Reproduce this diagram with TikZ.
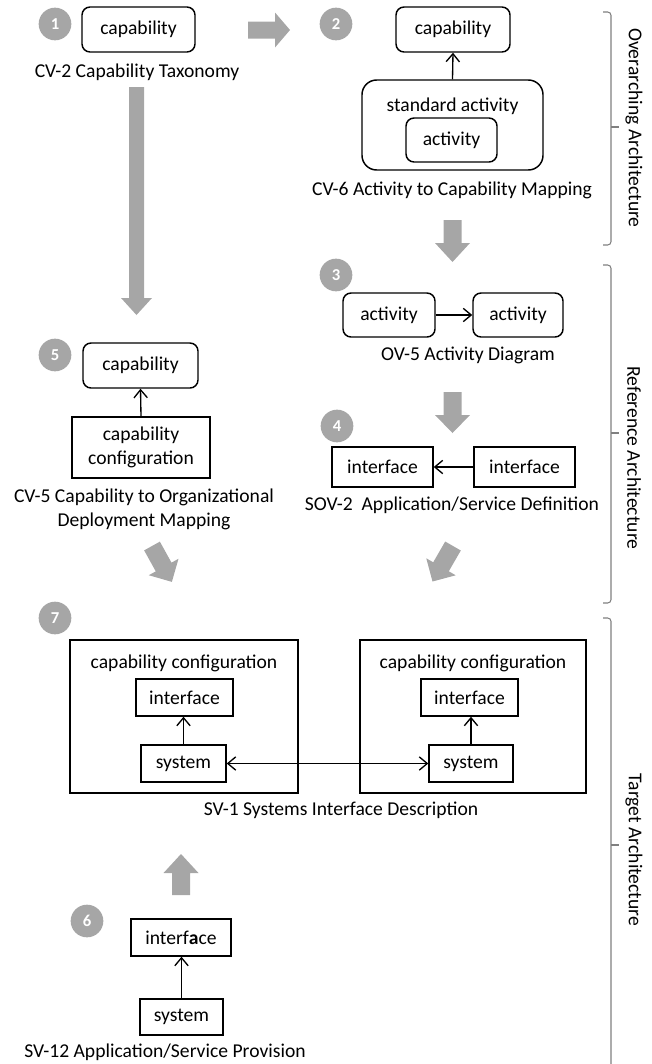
\documentclass[tikz,border=0pt]{standalone}
\usepackage{fontspec}
\setmainfont{Carlito}
\usetikzlibrary{arrows.meta}
\definecolor{numgray}{HTML}{A6A6A6}
\definecolor{arrgray}{HTML}{A6A6A6}
\definecolor{brkgray}{HTML}{808080}
\newcommand{\blockarrow}[7]{% x,y,angle,length,shaftw,headw,headlen
  \begin{scope}[shift={(#1,#2)},rotate=#3]
    \fill[arrgray] (0,{-#5/2}) -- ({#4-#7},{-#5/2}) -- ({#4-#7},{-#6/2}) -- (#4,0) -- ({#4-#7},{#6/2}) -- ({#4-#7},{#5/2}) -- (0,{#5/2}) -- cycle;
  \end{scope}}
\tikzset{
  rbox/.style={draw, line width=1.1pt, rounded corners=6pt, inner sep=0pt, align=center},
  sbox/.style={draw, line width=1.1pt, inner sep=0pt, align=center},
  num/.style={circle, fill=numgray, text=white, font=\bfseries\fontsize{12.5}{12.5}\selectfont, minimum size=24.5pt, inner sep=0pt},
  lbl/.style={align=center, inner sep=0pt},
  con/.style={line width=1pt, -{Straight Barb[length=6pt,width=10pt]}},
  dcon/.style={line width=1pt, {Straight Barb[length=6pt,width=10pt]}-{Straight Barb[length=6pt,width=10pt]}},
  brk/.style={draw=brkgray, line width=0.8pt, rounded corners=2.5pt},
  side/.style={rotate=-90, inner sep=0pt},
}
\begin{document}
\begin{tikzpicture}[x=0.75pt,y=-0.75pt,font=\fontsize{14.7}{18.5}\selectfont]
\useasboundingbox (0,0) rectangle (652,1064);

% block arrows
\blockarrow{248}{30}{0}{42}{17}{35}{15}
\blockarrow{136.5}{87}{-90}{228}{15}{31}{17}
\blockarrow{452.5}{220}{-90}{42}{18}{35}{19}
\blockarrow{452.5}{392}{-90}{41}{18}{35}{18}
\blockarrow{152}{546}{-61}{41}{18}{34}{17}
\blockarrow{453}{546}{-120}{41}{18}{34}{17}
\blockarrow{181}{895}{90}{41}{18}{35}{19}

% 1
\node[num] (n1) at (55,24) {1};
\node[rbox, minimum width=84.75pt, minimum height=33.75pt] (cap1) at (138.5,29.5) {capability};
\node[lbl] (l1) at (137,72) {CV-2 Capability Taxonomy};

% 2
\node[num] (n2) at (336,24) {2};
\node[rbox, minimum width=85.5pt, minimum height=33.75pt] (cap2) at (453,29.5) {capability};
\node[draw, line width=1.1pt, rounded corners=11pt, minimum width=135.75pt, minimum height=67.5pt] (std) at (452.5,125) {};
\node[lbl] (stdt) at (452.5,106) {standard activity};
\node[rbox, minimum width=68.25pt, minimum height=33pt] (act) at (451.5,140) {activity};
\draw[con] (std.north) -- (cap2.south);
\node[lbl] (l2) at (452,190) {CV-6 Activity to Capability Mapping};

% 3
\node[num] (n3) at (336,275) {3};
\node[rbox, minimum width=69pt, minimum height=33pt] (act1) at (389,315) {activity};
\node[rbox, minimum width=67.5pt, minimum height=33pt] (act2) at (518,315) {activity};
\draw[con] (act1.east) -- (act2.west);
\node[lbl] (l3) at (468,355) {OV-5 Activity Diagram};

% 4
\node[num] (n4) at (337,426) {4};
\node[sbox, minimum width=75.75pt, minimum height=30pt] (if1) at (382.5,467) {interface};
\node[sbox, minimum width=75.75pt, minimum height=30pt] (if2) at (524.5,467) {interface};
\draw[con] (if2.west) -- (if1.east);
\node[lbl] (l4) at (452,505) {SOV-2\ \ Application/Service Definition};

% 5
\node[num] (n5) at (55,355) {5};
\node[rbox, minimum width=86.25pt, minimum height=33.75pt] (cap5) at (140.5,365.5) {capability};
\node[sbox, minimum width=103.5pt, minimum height=45.75pt] (cfg) at (141,447.5) {capability\\configuration};
\draw[con] (cfg.north) -- (cap5.south);
\node[lbl] (l5) at (144,509.5) {CV-5 Capability to Organizational\\Deployment Mapping};

% 7
\node[num] (n7) at (55,618) {7};
\node[sbox, minimum width=171pt, minimum height=114.75pt] (outL) at (184,716.5) {};
\node[sbox, minimum width=169.5pt, minimum height=114.75pt] (outR) at (473,716.5) {};
\node[lbl] (ccL) at (184,663) {capability configuration};
\node[lbl] (ccR) at (473,663) {capability configuration};
\node[sbox, minimum width=72.75pt, minimum height=27.75pt] (ifL) at (184.5,697.5) {interface};
\node[sbox, minimum width=63.75pt, minimum height=27.75pt] (sysL) at (183.5,763.5) {system};
\node[sbox, minimum width=72.75pt, minimum height=27.75pt] (ifR) at (469.5,697.5) {interface};
\node[sbox, minimum width=63pt, minimum height=27.75pt] (sysR) at (471,763.5) {system};
\draw[con] (sysL.north) -- (sysL.north |- ifL.south);
\draw[con] (sysR.north) -- (sysR.north |- ifR.south);
\draw[dcon] (sysL.east) -- (sysR.west);
\node[lbl] (l7) at (341,810) {SV-1 Systems Interface Description};

% 6
\node[num] (n6) at (87,921) {6};
\node[sbox, minimum width=75pt, minimum height=27.75pt] (ifB) at (181,937.5) {interf\textbf{a}ce};
\node[sbox, minimum width=62.25pt, minimum height=27pt] (sysB) at (181.5,1017) {system};
\draw[con] (sysB.north) -- (sysB.north |- ifB.south);
\node[lbl] (l6) at (165,1052) {SV-12 Application/Service Provision};

% brackets
\draw[brk] (603,12) -- (611,12) -- (611,245) -- (603,245);
\draw[brkgray, line width=0.8pt] (611,127) -- (619,127);
\node[side] (s1) at (634,128) {Overarching Architecture};
\draw[brk] (603,265) -- (611,265) -- (611,603) -- (603,603);
\draw[brkgray, line width=0.8pt] (611,433) -- (619,433);
\node[side] (s2) at (634,458) {Reference Architecture};
\draw[brk] (603,618) -- (611,618) -- (611,1075) -- (603,1075);
\draw[brkgray, line width=0.8pt] (611,845) -- (619,845);
\node[side] (s3) at (634,850) {Target Architecture};
\end{tikzpicture}
\end{document}
